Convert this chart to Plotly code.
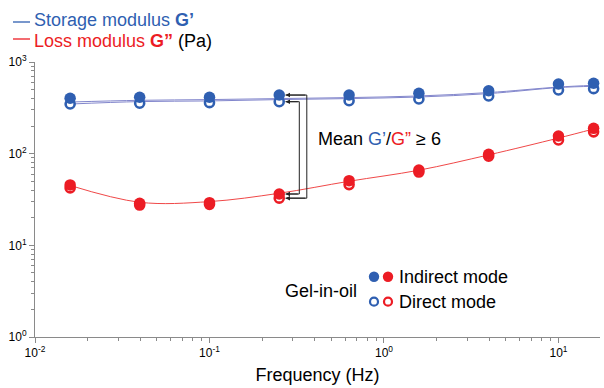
import math
import plotly.graph_objects as go

# ---------------- data ----------------
freq = [0.0159, 0.0398, 0.1, 0.251, 0.631, 1.585, 3.98, 10.0, 15.9]
g1_indirect = [402, 412, 412, 436, 436, 456, 486, 575, 586]
g1_direct = [348, 355, 360, 369, 378, 395, 426, 495, 512]
g2_indirect = [45.6, 28.8, 29.2, 36.3, 50.8, 66.4, 98.5, 156, 189]
g2_direct = [42.3, 27.5, 28.0, 32.7, 46.0, 63.0, 94.0, 141, 173]

# fitted curves
g1_fit_indirect = [366, 382, 389, 399, 409, 426, 464, 533, 557]
g1_fit_direct = [348, 370, 376, 389, 399, 415, 452, 526, 543]
g2_fit = [45.0, 29.5, 30.0, 37.0, 50.0, 66.0, 97.0, 148, 186]

x_tickvals = [0.01, 0.1, 1, 10]
x_ticktext = ["10<sup>-2</sup>", "10<sup>-1</sup>", "10<sup>0</sup>", "10<sup>1</sup>"]
y_tickvals = [1, 10, 100, 1000]
y_ticktext = ["10<sup>0</sup>", "10<sup>1</sup>", "10<sup>2</sup>", "10<sup>3</sup>"]

# ---------------- style ----------------
BLUE = "#2f5fb1"
RED = "#ec1c24"
BLUE_LINE = "#8286cc"
RED_LINE = "#f04848"
AXIS = "#8a8a8a"
FONT = "Arial, Liberation Sans, sans-serif"

fig = go.Figure()

# fitted lines
for ys in (g1_fit_indirect, g1_fit_direct):
    fig.add_trace(go.Scatter(x=freq, y=ys, mode="lines", line=dict(color=BLUE_LINE, width=1, shape="spline", smoothing=1.0),
                             hoverinfo="skip", showlegend=False))
fig.add_trace(go.Scatter(x=freq, y=g2_fit, mode="lines", line=dict(color=RED_LINE, width=1, shape="spline", smoothing=1.0),
                         hoverinfo="skip", showlegend=False))

# direct (open) markers
for ys, c in ((g1_direct, BLUE), (g2_direct, RED)):
    fig.add_trace(go.Scatter(x=freq, y=ys, mode="markers",
                             marker=dict(symbol="circle", size=9, color="white", line=dict(color=c, width=2.6)),
                             showlegend=False))
# indirect (filled) markers
for ys, c in ((g1_indirect, BLUE), (g2_indirect, RED)):
    fig.add_trace(go.Scatter(x=freq, y=ys, mode="markers",
                             marker=dict(symbol="circle", size=11.5, color=c, line=dict(width=0)),
                             showlegend=False))

# bracket (G'/G'' comparison at 4th frequency)
k = 3
xp = freq[k]
tip = xp * 10 ** 0.036
pairs = [(g1_indirect[k], g2_direct[k], 0.158), (g1_direct[k], g2_indirect[k], 0.115)]
for ytop, ybot, off in pairs:
    xv = xp * 10 ** off
    fig.add_trace(go.Scatter(x=[tip, xv, xv, tip], y=[ytop, ytop, ybot, ybot], mode="lines",
                             line=dict(color="#222222", width=1), hoverinfo="skip", showlegend=False))
    for yy in (ytop, ybot):
        fig.add_annotation(x=math.log10(tip), y=math.log10(yy), ax=math.log10(xv), ay=math.log10(yy),
                           xref="x", yref="y", axref="x", ayref="y", text="", showarrow=True,
                           arrowhead=2, arrowsize=0.9, arrowwidth=1, arrowcolor="#222222", standoff=0)

# plot area pixel geometry helpers (for paper-placed text)
L, R, T, B = 35, 600, 62, 337
def px(x):
    return (x - L) / (R - L)
def py(y):
    return (B - y) / (B - T)

# top legend
fig.add_annotation(x=px(32), y=py(19.5), xref="paper", yref="paper", xanchor="left", yanchor="middle",
                   text=f"<span style='color:{BLUE}'>Storage modulus <b>G’</b></span>", showarrow=False,
                   font=dict(family=FONT, size=18, color=BLUE))
fig.add_annotation(x=px(32), y=py(41), xref="paper", yref="paper", xanchor="left", yanchor="middle",
                   text=f"<span style='color:{RED}'>Loss modulus <b>G”</b></span> (Pa)", showarrow=False,
                   font=dict(family=FONT, size=18, color="black"))
fig.add_shape(type="line", xref="paper", yref="paper", x0=px(13), x1=px(30), y0=py(22), y1=py(22),
              line=dict(color=BLUE, width=1.3))
fig.add_shape(type="line", xref="paper", yref="paper", x0=px(13), x1=px(30), y0=py(39), y1=py(39),
              line=dict(color=RED, width=1.3))

# ratio text
fig.add_annotation(x=px(316), y=py(139.3), xref="paper", yref="paper", xanchor="left", yanchor="middle",
                   text=f"Mean <span style='color:{BLUE}'>G’</span>/<span style='color:{RED}'>G”</span> ≥ 6",
                   showarrow=False, font=dict(family=FONT, size=18, color="black"))

# bottom legend
fig.add_annotation(x=px(283), y=py(290.7), xref="paper", yref="paper", xanchor="left", yanchor="middle",
                   text="Gel-in-oil", showarrow=False, font=dict(family=FONT, size=18, color="black"))
fig.add_annotation(x=px(397), y=py(276.7), xref="paper", yref="paper", xanchor="left", yanchor="middle",
                   text="Indirect mode", showarrow=False, font=dict(family=FONT, size=18, color="black"))
fig.add_annotation(x=px(397), y=py(301.7), xref="paper", yref="paper", xanchor="left", yanchor="middle",
                   text="Direct mode", showarrow=False, font=dict(family=FONT, size=18, color="black"))
for cx, c in ((374, BLUE), (388, RED)):
    fig.add_shape(type="circle", xref="paper", yref="paper", xsizemode="pixel", ysizemode="pixel",
                  xanchor=px(cx), yanchor=py(276.7), x0=-5.2, x1=5.2, y0=-5.2, y1=5.2,
                  fillcolor=c, line=dict(color=c, width=0))
    fig.add_shape(type="circle", xref="paper", yref="paper", xsizemode="pixel", ysizemode="pixel",
                  xanchor=px(cx), yanchor=py(301.7), x0=-4, x1=4, y0=-4, y1=4,
                  fillcolor="white", line=dict(color=c, width=2.2))

# minor tick positions
x_minor = [m * 10 ** d for d in range(-2, 2) for m in range(2, 10)]
y_minor = [m * 10 ** d for d in range(0, 3) for m in range(2, 10)]

fig.update_xaxes(type="log", range=[-2, 1.238], tickmode="array", tickvals=x_tickvals, ticktext=x_ticktext,
                 ticks="outside", ticklen=5, tickcolor=AXIS, showline=True, linecolor=AXIS, linewidth=1,
                 showgrid=False, zeroline=False, tickfont=dict(family=FONT, size=12, color="black"),
                 minor=dict(tickmode="array", tickvals=x_minor, ticks="outside", ticklen=3, tickcolor=AXIS, showgrid=False),
                 title=dict(text="Frequency (Hz)", font=dict(family=FONT, size=18, color="black"), standoff=8))
fig.update_yaxes(type="log", range=[0, 3], tickmode="array", tickvals=y_tickvals, ticktext=y_ticktext,
                 ticks="outside", ticklen=5, tickcolor=AXIS, showline=True, linecolor=AXIS, linewidth=1,
                 showgrid=False, zeroline=False, tickfont=dict(family=FONT, size=12, color="black"),
                 minor=dict(tickmode="array", tickvals=y_minor, ticks="outside", ticklen=3, tickcolor=AXIS, showgrid=False))

fig.update_layout(width=604, height=388, margin=dict(l=L, r=604 - R, t=T, b=388 - B),
                  paper_bgcolor="white", plot_bgcolor="white", showlegend=False,
                  font=dict(family=FONT, color="black"))

fig.write_html("out.html")
